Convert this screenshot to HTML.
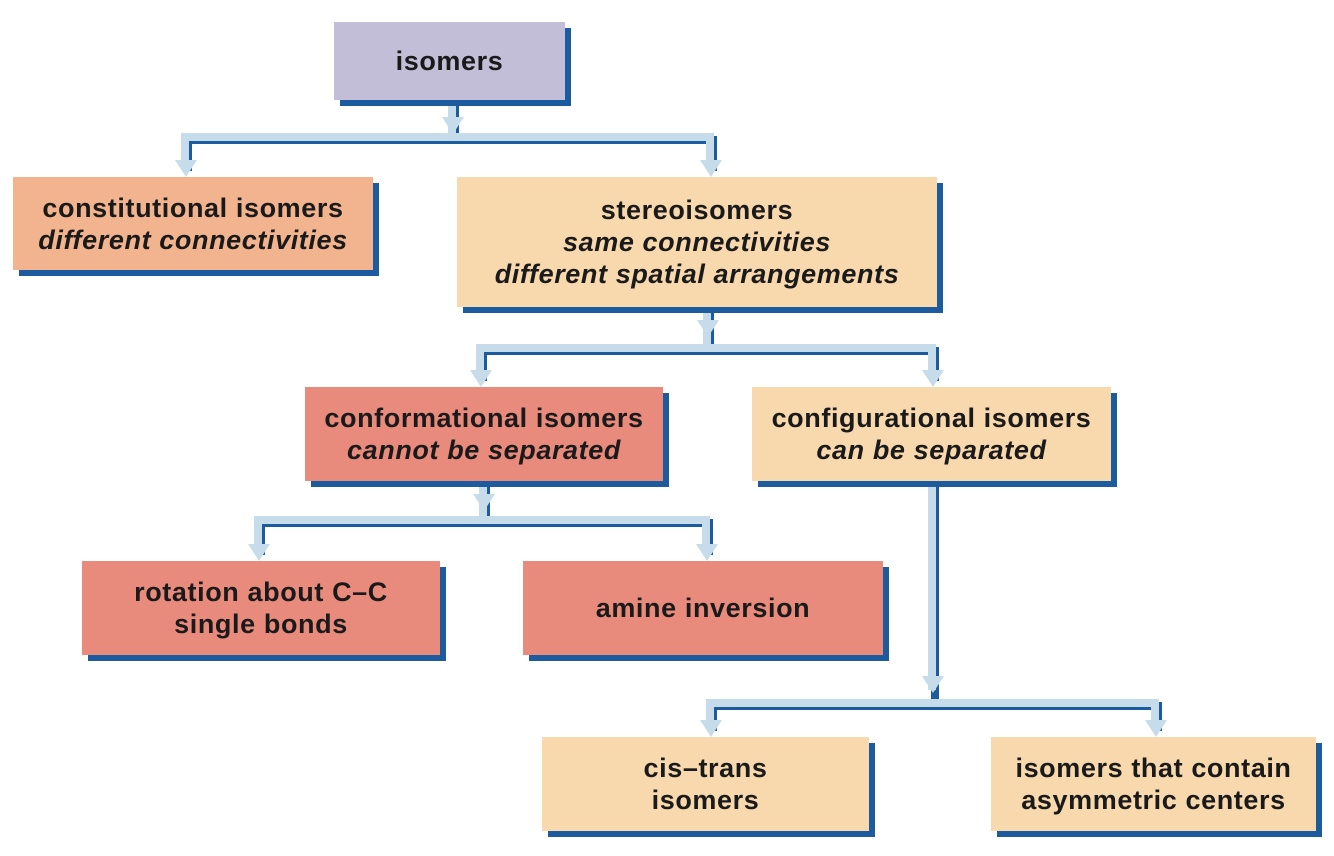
<!DOCTYPE html>
<html><head><meta charset="utf-8"><style>
body{margin:0;width:1334px;height:856px;background:#fff;position:relative;overflow:hidden;font-family:"Liberation Sans",sans-serif}
.b{position:absolute;box-shadow:6px 6px 0 #1c5c9e;display:flex;flex-direction:column;justify-content:center;align-items:center;text-align:center;font-weight:bold;font-size:27px;letter-spacing:0.6px;line-height:32px;color:#1a1a1a;white-space:nowrap}
.b i{font-style:italic}
svg{position:absolute;left:0;top:0}
</style></head><body>
<svg width="1334" height="856">
<g fill="none" stroke-linejoin="miter">
<g stroke="#1c5c9e" stroke-width="8" transform="translate(3,3)">
<path d="M452 100V137M185 168V137H710V168"/>
<path d="M707 307V348M480 378V348H932V378"/>
<path d="M483 481V520M258 552V520H706V552"/>
<path d="M932 481V703M710 728V703H1155V728"/>
</g>
<g stroke="#c6dcea" stroke-width="8">
<path d="M452 100V137M185 168V137H710V168"/>
<path d="M707 307V348M480 378V348H932V378"/>
<path d="M483 481V520M258 552V520H706V552"/>
<path d="M932 481V690M710 728V703H1155V728"/>
</g>
</g>
<g fill="#c6dcea">
<polygon points="442,117 464,117 453,134"/>
<polygon points="175,160 197,160 186,177"/>
<polygon points="700,160 722,160 711,177"/>
<polygon points="697,320 719,320 708,337"/>
<polygon points="470,370 492,370 481,387"/>
<polygon points="922,370 944,370 933,387"/>
<polygon points="473,494 495,494 484,511"/>
<polygon points="248,544 270,544 259,561"/>
<polygon points="696,544 718,544 707,561"/>
<polygon points="922,676 944,676 933,693"/>
<polygon points="700,720 722,720 711,737"/>
<polygon points="1145,720 1167,720 1156,737"/>
</g>
</svg>
<div class="b" style="left:334px;top:22px;width:231px;height:78px;background:#c3bed8">isomers</div>
<div class="b" style="left:13px;top:177px;width:360px;height:93px;background:#f2b48e">constitutional isomers<i>different connectivities</i></div>
<div class="b" style="left:457px;top:177px;width:480px;height:130px;background:#f8d8ad">stereoisomers<i>same connectivities</i><i>different spatial arrangements</i></div>
<div class="b" style="left:305px;top:387px;width:358px;height:94px;background:#e88a7c">conformational isomers<i>cannot be separated</i></div>
<div class="b" style="left:752px;top:387px;width:359px;height:94px;background:#f8d8ad">configurational isomers<i>can be separated</i></div>
<div class="b" style="left:82px;top:561px;width:358px;height:94px;background:#e88a7c">rotation about C–C<br>single bonds</div>
<div class="b" style="left:523px;top:561px;width:360px;height:94px;background:#e88a7c">amine inversion</div>
<div class="b" style="left:542px;top:737px;width:327px;height:94px;background:#f8d8ad">cis–trans<br>isomers</div>
<div class="b" style="left:991px;top:737px;width:325px;height:94px;background:#f8d8ad">isomers that contain<br>asymmetric centers</div>
</body></html>
